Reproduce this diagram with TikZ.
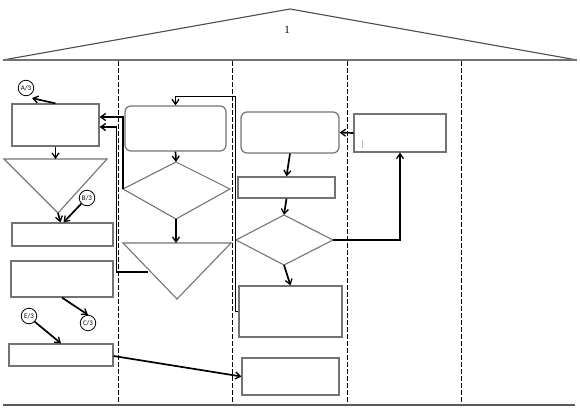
\documentclass[tikz,border=0pt]{standalone}
\usepackage{fontspec}
\setmainfont{Liberation Serif}
\newfontfamily\labfont{Carlito}
\usetikzlibrary{arrows.meta,calc}
\begin{document}
\begin{tikzpicture}[x=1pt,y=-1pt,
  box/.style={draw=black!55, line width=1.2pt, rectangle, inner sep=0pt},
  rbox/.style={box, rounded corners=6pt},
  shp/.style={draw=black!55, line width=1.1pt},
  flow/.style={-{Straight Barb[length=5pt,width=7pt,line width=1.3pt]}, line width=1.7pt, black},
  lane/.style={line width=1pt, dash pattern=on 4.5pt off 2.5pt},
  circ/.style={circle, draw, line width=0.8pt, minimum size=15.5pt, inner sep=0pt, font=\labfont\fontsize{7}{8}\selectfont}]
\useasboundingbox (0,0) rectangle (580,412);
% roof
\coordinate (rl) at (3,60);
\coordinate (rt) at (290,9);
\coordinate (rr) at (577,60);
\draw[line width=1.1pt, black!70] (rl) -- (rt) -- (rr);
\draw[line width=1.6pt, black!55] (rl) -- (rr);
\node[font=\fontsize{11}{12}\selectfont] (one) at (287,30) {1};
% lanes
\foreach \x/\n in {118/l1,232/l2,347/l3,461/l4}{
  \coordinate (\n t) at (\x,61);
  \coordinate (\n b) at (\x,404);
  \draw[lane] (\n t) -- (\n b);
}
\coordinate (bl) at (3,405);
\coordinate (br) at (575,405);
\draw[line width=1.4pt, black!65] (bl) -- (br);
% boxes
\node[box, minimum width=87pt, minimum height=42pt] (b1) at (55.5,125) {};
\node[box, minimum width=101pt, minimum height=23pt] (b2) at (62.5,234.5) {};
\node[box, minimum width=102pt, minimum height=36pt] (b3) at (62,279) {};
\node[box, minimum width=104pt, minimum height=22pt] (b6) at (61,355) {};
\node[rbox, minimum width=101pt, minimum height=45pt] (r2) at (175.5,128.5) {};
\node[rbox, minimum width=98pt, minimum height=41pt] (r3) at (290,132.5) {};
\node[box, minimum width=97pt, minimum height=21pt] (b7) at (286.5,187.5) {};
\node[box, minimum width=103pt, minimum height=51pt] (b4) at (290.5,311.5) {};
\node[box, minimum width=97pt, minimum height=37pt] (b5) at (290.5,376.5) {};
\node[box, minimum width=92pt, minimum height=38pt] (b8) at (400,133) {};
\coordinate (mk1) at (362,140);
\coordinate (mk2) at (362,148);
\draw[black!25, line width=1pt] (mk1) -- (mk2);
% circles
\node[circ] (A) at (26,88) {A/3};
\node[circ] (B) at (87,198) {B/3};
\node[circ] (C) at (88,323) {C/3};
\node[circ] (E) at (29,316) {E/3};
% triangle 1
\coordinate (t1a) at (4,159);
\coordinate (t1b) at (107,159);
\coordinate (t1c) at (58,213);
\coordinate (t1n) at (55.5,159);
\draw[shp] (t1a) -- (t1b) -- (t1c) -- cycle;
% diamond 2
\coordinate (d2n) at (176,162);
\coordinate (d2w) at (123,189);
\coordinate (d2e) at (230,189);
\coordinate (d2s) at (176,219);
\draw[shp] (d2n) -- (d2e) -- (d2s) -- (d2w) -- cycle;
% triangle 2
\coordinate (t2a) at (123,243);
\coordinate (t2b) at (231,243);
\coordinate (t2c) at (177,299);
\coordinate (t2n) at (176,243);
\coordinate (t2l) at (148,272);
\draw[shp] (t2a) -- (t2b) -- (t2c) -- cycle;
% diamond 3
\coordinate (d3n) at (284,215);
\coordinate (d3w) at (236,240);
\coordinate (d3e) at (333,240);
\coordinate (d3s) at (284,265);
\draw[shp] (d3n) -- (d3e) -- (d3s) -- (d3w) -- cycle;
% connectors
\draw[flow] (b1.north) -- ($(A.south)+(6,2)$);
\draw[flow] (b1.south) -- (t1n);
\draw[flow] (t1c) -- ($(b2.north)+(-2,0)$);
\draw[flow] (B.south west) -- ($(b2.north)+(1,0)$);
\draw[flow] (r2.south) -- (d2n);
\draw[flow] (d2s) -- (t2n);
\draw[flow] (d2w) |- ($(b1.east)+(0,-8)$);
\draw[flow] (t2l) -| ($(b1.east)+(17,2)$) -- ($(b1.east)+(0,2)$);
\draw[flow] (b4.west) -- ++(-3,0) |- ($(r2.north)+(0,-9)$) -- (r2.north);
\draw[flow] (b8.west) -- (r3.east);
\draw[flow] (r3.south) -- (b7.north);
\draw[flow] (b7.south) -- (d3n);
\draw[flow] (d3e) -| (b8.south);
\draw[flow] (d3s) -- (b4.north);
\draw[flow] (b3.south) -- (C.north);
\draw[flow] (E.south east) -- (b6.north);
\draw[flow] ($(b6.east)+(0,1)$) -- (b5.west);
\end{tikzpicture}
\end{document}
